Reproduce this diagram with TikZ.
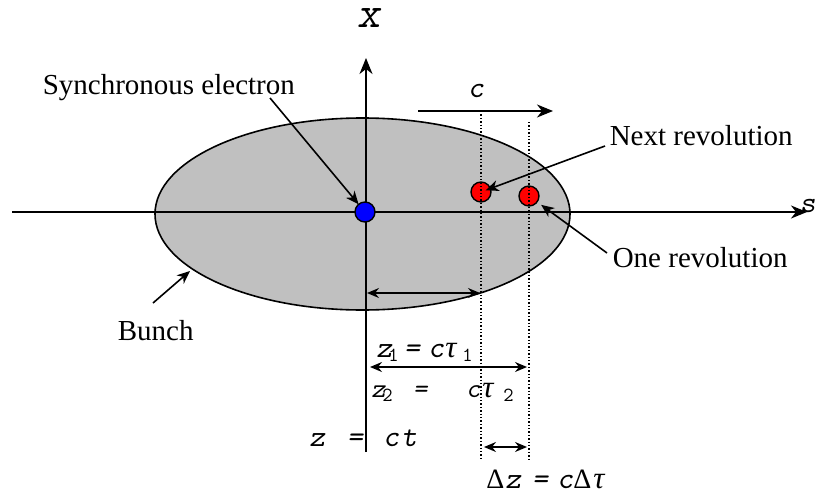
\documentclass[tikz,border=0pt]{standalone}
\usepackage{fontspec}
\setmainfont{Liberation Serif}
\newfontfamily\grkf{Liberation Serif}
\usetikzlibrary{arrows.meta}
\definecolor{bunchgray}{HTML}{C0C0C0}
\newcommand{\tauf}{{\grkf\itshape\fontsize{31}{34}\selectfont τ}}
\newcommand{\deltaf}{{\grkf\upshape\fontsize{28}{34}\selectfont Δ}}
\newcommand{\sbs}[1]{\raisebox{-4pt}{\fontsize{20}{20}\selectfont\upshape #1}}
\newcommand{\pl}[2]{\rlap{\hskip#1pt #2}}
\begin{document}
\begin{tikzpicture}[x=1pt,y=-1pt,line width=1.6pt,
  axis/.style={-{Stealth[length=16pt,width=13pt,inset=5pt]}},
  ptr/.style={-{Stealth[length=13pt,width=11pt,inset=4pt]}},
  dimarrow/.style={{Stealth[length=12pt,width=10pt,inset=4pt]}-{Stealth[length=12pt,width=10pt,inset=4pt]}},
  guide/.style={dotted,line width=1.4pt},
  lbl/.style={font=\fontsize{29}{34}\selectfont,anchor=base west,inner sep=0pt},
  mth/.style={font=\fontsize{30}{34}\selectfont\ttfamily\slshape,inner sep=0pt},
  dotnode/.style={circle,draw,line width=1.4pt,minimum size=20pt,inner sep=0pt}]
\useasboundingbox (0,0) rectangle (816,498);
% bunch
\draw[fill=bunchgray] (362.5,214) ellipse [x radius=207.5, y radius=96];
% axes
\coordinate (sL) at (12,212);
\coordinate (sR) at (807,212);
\coordinate (xB) at (366,452);
\coordinate (xT) at (366,58);
\draw[axis] (sL) -- (sR);
\draw[axis] (xB) -- (xT);
% particles
\node[dotnode,fill=blue] (sync) at (365,212) {};
\node[dotnode,fill=red] (r1) at (481,192) {};
\node[dotnode,fill=red] (r2) at (529,196) {};
% guides
\coordinate (d1t) at (481,111);
\coordinate (d1b) at (481,459);
\coordinate (d2t) at (529,122);
\coordinate (d2b) at (529,459);
\draw[guide] (d1t) -- (d1b);
\draw[guide] (d2t) -- (d2b);
% c arrow
\coordinate (cL) at (418,111);
\coordinate (cR) at (553,111);
\draw[axis] (cL) -- (cR);
% text labels
\node[lbl] (tsync) at (42,94) {Synchronous electron};
\node[lbl] (tnext) at (609,145) {Next revolution};
\node[lbl] (tone) at (612,267) {One revolution};
\node[lbl] (tbunch) at (117,340) {Bunch};
% pointer arrows
\coordinate (ps) at (270,98);
\draw[ptr,shorten >=10pt] (ps) -- (sync.center);
\coordinate (pn) at (605,146);
\draw[ptr,shorten >=5pt] (pn) -- (r1.center);
\coordinate (po) at (607,253);
\draw[ptr,shorten >=15pt] (po) -- (r2.center);
\coordinate (pb) at (153,303);
\coordinate (pbt) at (190,271);
\draw[ptr] (pb) -- (pbt);
% dimension arrows
\coordinate (z1L) at (367,293);
\coordinate (z1R) at (480,293);
\draw[dimarrow] (z1L) -- (z1R);
\coordinate (z2L) at (370,367);
\coordinate (z2R) at (527,367);
\draw[dimarrow] (z2L) -- (z2R);
\coordinate (dzL) at (484,447);
\coordinate (dzR) at (527,447);
\draw[dimarrow] (dzL) -- (dzR);
% math labels
\node[mth,anchor=base] (lx) at (369,27) {\fontsize{44}{44}\selectfont x};
\node[mth,anchor=base] (lc) at (476,97) {c};
\node[mth,anchor=base west] (ls) at (799,212) {s};
\node[mth,anchor=base west] (lz) at (308,446) {\pl{0}{z}\pl{38}{=}\pl{74}{c}\pl{92}{t}\hskip110pt};
\node[mth,anchor=base west] (lz1) at (375,357) {\pl{0}{z}\pl{12}{\sbs{1}}\pl{28}{=}\pl{52}{c}\pl{69}{\tauf}\pl{86}{\sbs{1}}\hskip97pt};
\node[mth,anchor=base west,font=\fontsize{27}{30}\selectfont\ttfamily\slshape] (lz2) at (370,397) {\pl{0}{z}\pl{11}{\sbs{2}}\pl{42}{=}\pl{95}{c}\pl{111}{\tauf}\pl{132}{\sbs{2}}\hskip142pt};
\node[mth,anchor=base west] (ldz) at (485,488) {\pl{0}{\deltaf}\pl{19}{z}\pl{46}{=}\pl{71}{c}\pl{87}{\deltaf}\pl{107}{\tauf}\hskip125pt};
\end{tikzpicture}
\end{document}
